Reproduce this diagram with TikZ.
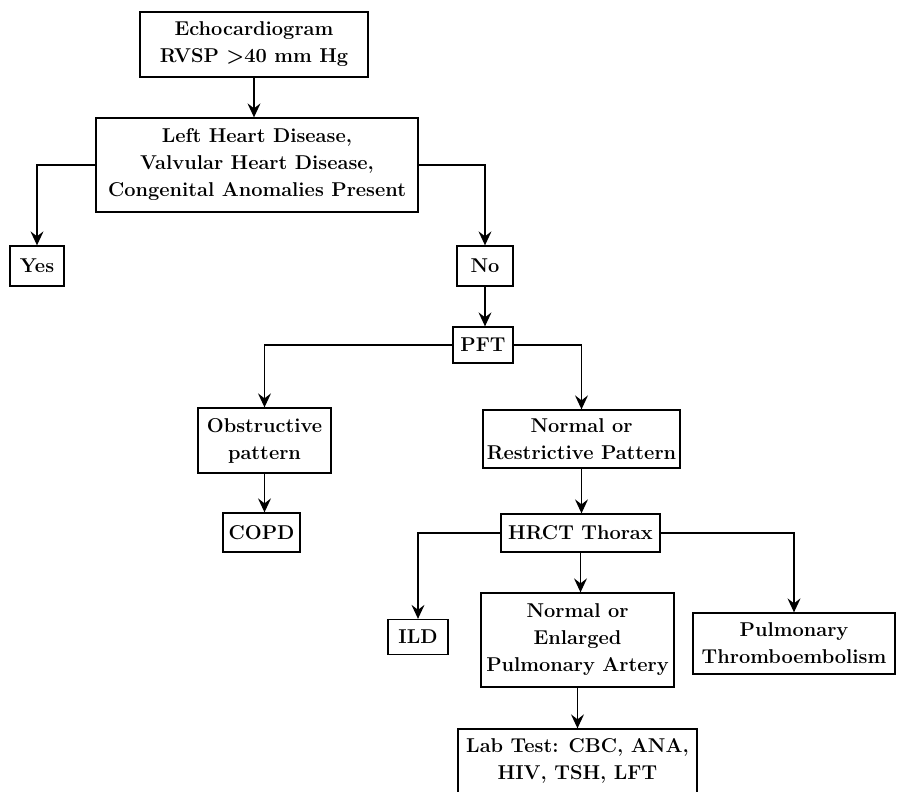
\documentclass[tikz,border=0pt]{standalone}
\usepackage{fontspec}
\usepackage{tikz}
\usetikzlibrary{arrows.meta}

\tikzset{
  box/.style={draw, line width=1.3pt, align=center, inner sep=2pt,
    font=\fontsize{20}{27}\selectfont\bfseries},
  arrow/.style={line width=1.3pt, -{Stealth[length=14pt,width=13pt,inset=5pt]}}
}

\begin{document}
\begin{tikzpicture}[x=1pt,y=-1pt]
    \useasboundingbox (0,0) rectangle (897,792);
    % boxes: name / centre / width / height / text
    \foreach \n/\pos/\w/\h/\txt in {
        echo/{254,44.5}/228/65/{Echocardiogram\\RVSP >40 mm Hg},
        lhd/{257,165}/322/94/{Left Heart Disease,\\Valvular Heart Disease,\\Congenital Anomalies Present},
        yes/{37,266}/54/40/{Yes},
        no/{485,266}/56/40/{No},
        pft/{483,345}/60/36/{PFT},
        obs/{264.5,440.5}/133/65/{Obstructive\\pattern},
        nrp/{581.5,439}/197/58/{Normal or\\Restrictive Pattern},
        copd/{261.5,532.5}/77/39/{COPD},
        hrct/{580.5,533}/159/38/{HRCT Thorax},
        ild/{418,637}/60/35/{ILD},
        nepa/{577.5,640}/193/94/{Normal or\\Enlarged\\Pulmonary Artery},
        pt/{794,643.5}/202/61/{Pulmonary\\Thromboembolism},
        lab/{577.5,761}/239/64/{Lab Test: CBC, ANA,\\HIV, TSH, LFT}}
      \node[box, minimum width=\w pt, minimum height=\h pt] (\n) at (\pos) {\txt};
    % straight arrows down
    \foreach \a/\b in {echo/lhd, no/pft, obs/copd, nrp/hrct, hrct/nepa, nepa/lab}
      \draw[arrow] (\a.south) -- (\a.south |- \b.north);
    % branches out of the sides
    \foreach \a/\side/\b in {lhd/west/yes, lhd/east/no, pft/west/obs, pft/east/nrp,
        hrct/west/ild, hrct/east/pt}
      \draw[arrow] (\a.\side) -| (\b.north);
\end{tikzpicture}
\end{document}
